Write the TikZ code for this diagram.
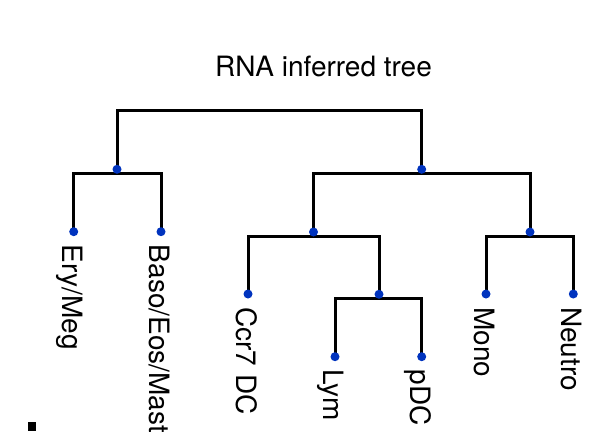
\documentclass[tikz,border=0pt]{standalone}
\usepackage{fontspec}
\setmainfont{TeX Gyre Heros}
\usetikzlibrary{calc}
\definecolor{dotblue}{RGB}{0,51,190}
\begin{document}
\begin{tikzpicture}[x=1pt,y=-1pt,
  branch/.style={line width=3pt, line join=miter, draw=black},
  dot/.style={circle, fill=dotblue, inner sep=0pt, minimum size=9pt},
  leaflabel/.style={rotate=-90, anchor=base west, inner sep=0pt, font=\fontsize{28}{32}\selectfont},
  titlelabel/.style={anchor=base, inner sep=0pt, font=\fontsize{28}{32}\selectfont}]
\useasboundingbox (0,0) rectangle (591,431);
% bar positions of internal nodes
\coordinate (root) at (269.5,110);
\coordinate (bL) at (117,173.3);
\coordinate (bR) at (421.7,173.3);
\coordinate (bRL) at (313.5,236);
\coordinate (bRR) at (530,236);
\coordinate (bRLR) at (379,298.3);
% leaf positions
\coordinate (ery) at (73.7,231.7);
\coordinate (baso) at (161,231.7);
\coordinate (ccr) at (248,294);
\coordinate (lym) at (335,356.7);
\coordinate (pdc) at (421.7,356.7);
\coordinate (mono) at (486,294);
\coordinate (neutro) at (573.3,294);
% branches
\draw[branch] (bL) |- (root) -| (bR);
\draw[branch] (ery) |- (bL) -| (baso);
\draw[branch] (bRL) |- (bR) -| (bRR);
\draw[branch] (ccr) |- (bRL) -| (bRLR);
\draw[branch] (lym) |- (bRLR) -| (pdc);
\draw[branch] (mono) |- (bRR) -| (neutro);
% internal dots
\node[dot] (dL) at ($(bL)+(0,-4)$) {};
\node[dot] (dR) at ($(bR)+(0,-4)$) {};
\node[dot] (dRL) at ($(bRL)+(0,-4)$) {};
\node[dot] (dRR) at ($(bRR)+(0,-4)$) {};
\node[dot] (dRLR) at ($(bRLR)+(0,-4)$) {};
% leaf dots
\node[dot] (dEry) at (ery) {};
\node[dot] (dBaso) at (baso) {};
\node[dot] (dCcr) at (ccr) {};
\node[dot] (dLym) at (lym) {};
\node[dot] (dPdc) at (pdc) {};
\node[dot] (dMono) at (mono) {};
\node[dot] (dNeutro) at (neutro) {};
% labels
\node[leaflabel] (lEry) at ($(ery)+(-11.5,13)$) {Ery/Meg};
\node[leaflabel] (lBaso) at ($(baso)+(-11.5,13)$) {Baso/Eos/Mast};
\node[leaflabel] (lCcr) at ($(ccr)+(-11.5,13)$) {Ccr7 DC};
\node[leaflabel] (lLym) at ($(lym)+(-11.5,13)$) {Lym};
\node[leaflabel] (lPdc) at ($(pdc)+(-11.5,13)$) {pDC};
\node[leaflabel] (lMono) at ($(mono)+(-11.5,13)$) {Mono};
\node[leaflabel] (lNeutro) at ($(neutro)+(-11.5,13)$) {Neutro};
% title
\node[titlelabel] (title) at (323.5,76) {RNA inferred tree};
% cut-off mark at bottom left
\fill[black] (28,422) rectangle (36,431);
\end{tikzpicture}
\end{document}
